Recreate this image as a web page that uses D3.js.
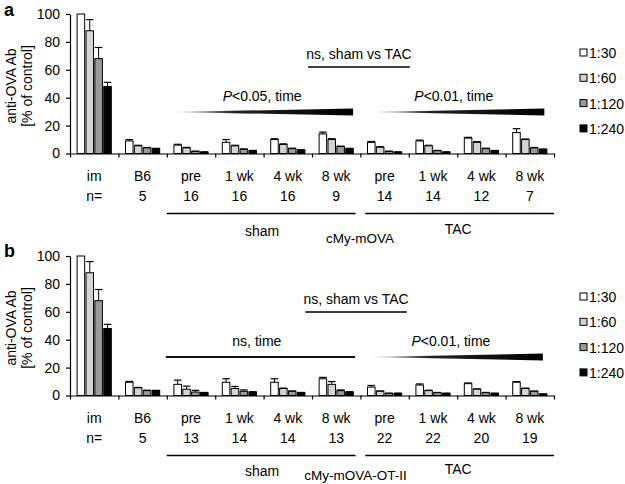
<!DOCTYPE html>
<html><head><meta charset="utf-8">
<script src="https://cdn.jsdelivr.net/npm/d3@7"></script>
<style>
body{margin:0;background:#fff;}
svg{display:block;font-family:"Liberation Sans",Arial,sans-serif;}
</style></head>
<body><svg id="c" width="625" height="484"></svg>
<script>
const categories = ["im","B6","pre","1 wk","4 wk","8 wk","pre","1 wk","4 wk","8 wk"];
const dilutions = ["1:30","1:60","1:120","1:240"];
const fills = ["#ffffff","#d4d4d4","#9a9a9a","#000000"];
const yTicks = [0,20,40,60,80,100];

// Panel a (cMy-mOVA)
const nA = ["n=","5","16","16","16","9","14","14","12","7"];
const a30  = [100, 9, 6, 8, 10, 14, 8, 9, 11, 15];
const a60  = [88, 5.5, 4, 5.5, 6.5, 10, 4.5, 5.5, 8, 10];
const a120 = [68, 4, 1.5, 3, 3.5, 5, 1.5, 2, 3.5, 4];
const a240 = [48, 3.5, 1, 2, 2.5, 3.5, 1, 1, 2, 3];
const aE30  = [0, 1, 0.6, 2, 0.6, 1.3, 0.6, 0.6, 0.6, 2.8];
const aE60  = [8, 0.4, 0.4, 0.4, 0.4, 0.6, 0.4, 0.4, 0.5, 0.4];
const aE120 = [8, 0.3, 0.2, 0.3, 0.3, 0.3, 0.2, 0.2, 0.3, 0.3];
const aE240 = [3, 0.2, 0.2, 0.2, 0.2, 0.2, 0.2, 0.2, 0.2, 0.2];

// Panel b (cMy-mOVA-OT-II)
const nB = ["n=","5","13","14","14","13","22","22","20","19"];
const b30  = [100, 9.5, 8, 9.5, 9.5, 12, 6, 7.5, 8.5, 9.5];
const b60  = [88, 5.5, 4.5, 5, 5, 8, 3, 3.5, 4.5, 5];
const b120 = [68, 3.5, 2.5, 3, 3, 3.5, 1.5, 2, 2, 3];
const b240 = [48, 3.5, 2, 2.5, 2, 2.5, 1.5, 1.5, 1.5, 1];
const bE30  = [0, 0.6, 3, 2.5, 2.5, 1, 1.2, 0.8, 0.5, 0.5];
const bE60  = [8, 0.3, 2.2, 1.5, 0.3, 2, 0.3, 0.3, 0.3, 0.3];
const bE120 = [8, 0.3, 1.2, 1, 0.3, 0.5, 0.2, 0.2, 0.2, 0.2];
const bE240 = [3, 0.2, 0.2, 0.2, 0.2, 0.2, 0.2, 0.2, 0.2, 0.2];

const svg = d3.select("#c");
const defs = svg.append("defs");
const grad = defs.append("linearGradient").attr("id","wedgeGrad")
  .attr("x1","0%").attr("x2","100%").attr("y1","0%").attr("y2","0%");
grad.append("stop").attr("offset","0%").attr("stop-color","#e0e0e0");
grad.append("stop").attr("offset","35%").attr("stop-color","#222");
grad.append("stop").attr("offset","100%").attr("stop-color","#000");

const FS = 14;

function drawPanel(cfg){
  const g = svg.append("g").attr("transform",`translate(0,${cfg.dy})`);
  const y = d3.scaleLinear().domain([0,100]).range([153.5,14]);
  const xb = d3.scaleLinear().domain([0,10]).range([70,554]);
  const x = d3.scaleBand().domain(d3.range(categories.length)).range([70,554]);
  const xi = d3.scaleBand().domain(d3.range(dilutions.length)).range([0,x.bandwidth()])
    .paddingInner(0.15).paddingOuter(0.8);

  // panel letter
  g.append("text").attr("x",4).attr("y",cfg.letterY).attr("font-size",18).attr("font-weight","bold").text(cfg.letter);

  // axes
  const yAx = g.append("g").attr("transform","translate(70,0)")
    .call(d3.axisLeft(y).tickValues(yTicks).tickSize(4).tickSizeOuter(0).tickPadding(6));
  yAx.selectAll("text").attr("font-size",FS).attr("font-family","Liberation Sans, Arial, sans-serif").attr("fill","#000");
  yAx.selectAll("line,path").attr("stroke","#000").attr("stroke-width",1.2);

  const xAx = g.append("g").attr("transform",`translate(0,${y(0)})`)
    .call(d3.axisBottom(xb).tickValues(d3.range(0,11)).tickSize(4).tickSizeOuter(0).tickFormat(""));
  xAx.selectAll("line,path").attr("stroke","#000").attr("stroke-width",1.2);

  // y title
  g.append("text").attr("transform","translate(16,86) rotate(-90)")
    .attr("text-anchor","middle").attr("font-size",FS).text("anti-OVA Ab");
  g.append("text").attr("transform","translate(32,86) rotate(-90)")
    .attr("text-anchor","middle").attr("font-size",FS).text("[% of control]");

  // bars
  const vals = cfg.values, errs = cfg.errors;
  dilutions.forEach((d,k)=>{
    const bg = g.append("g");
    categories.forEach((c,i)=>{
      const bx = x(i)+xi(k), bw = xi.bandwidth();
      const v = vals[k][i], e = errs[k][i];
      if(e>0){
        bg.append("line").attr("x1",bx+bw/2).attr("x2",bx+bw/2)
          .attr("y1",y(v)).attr("y2",y(v+e)).attr("stroke","#000").attr("stroke-width",1);
        bg.append("line").attr("x1",bx).attr("x2",bx+bw)
          .attr("y1",y(v+e)).attr("y2",y(v+e)).attr("stroke","#000").attr("stroke-width",1.2);
      }
      bg.append("rect").attr("x",bx).attr("y",y(v)).attr("width",bw).attr("height",y(0)-y(v))
        .attr("fill",fills[k]).attr("stroke","#000").attr("stroke-width",1);
    });
  });

  // category labels and n
  categories.forEach((c,i)=>{
    g.append("text").attr("x",x(i)+x.bandwidth()/2).attr("y",181).attr("text-anchor","middle")
      .attr("font-size",FS).text(c);
    g.append("text").attr("x",x(i)+x.bandwidth()/2).attr("y",201).attr("text-anchor","middle")
      .attr("font-size",FS).text(cfg.n[i]);
  });

  // group brackets
  g.append("line").attr("x1",xb(2)).attr("x2",xb(5.9)).attr("y1",213.5).attr("y2",213.5).attr("stroke","#000").attr("stroke-width",1.5);
  g.append("line").attr("x1",xb(6.1)).attr("x2",xb(10)).attr("y1",213.5).attr("y2",213.5).attr("stroke","#000").attr("stroke-width",1.5);
  g.append("text").attr("x",xb(3.97)).attr("y",cfg.shamY).attr("text-anchor","middle").attr("font-size",FS).text("sham");
  g.append("text").attr("x",xb(8.02)).attr("y",cfg.shamY-2).attr("text-anchor","middle").attr("font-size",FS).text("TAC");
  g.append("text").attr("x",xb(cfg.strainPos)).attr("y",cfg.strainY).attr("text-anchor","middle").attr("font-size",13.5).text(cfg.strain);

  // ns, sham vs TAC
  g.append("text").attr("x",xb((cfg.nsLine[0]+cfg.nsLine[1])/2)).attr("y",cfg.nsY).attr("text-anchor","middle")
    .attr("font-size",FS).text("ns, sham vs TAC");
  g.append("line").attr("x1",xb(cfg.nsLine[0])).attr("x2",xb(cfg.nsLine[1]))
    .attr("y1",cfg.nsY+8).attr("y2",cfg.nsY+8).attr("stroke","#000").attr("stroke-width",1.5);

  // time annotations
  cfg.time.forEach(t=>{
    const tx = g.append("text").attr("x",xb(t.tx)).attr("y",t.ty).attr("text-anchor","middle").attr("font-size",FS);
    if(t.italicP){
      tx.append("tspan").attr("font-style","italic").text("P");
      tx.append("tspan").text(t.label);
    } else tx.text(t.label);
    const x0 = xb(t.span[0]), x1 = xb(t.span[1]), cy = t.ly;
    if(t.wedge){
      g.append("path").attr("d",`M${x0},${cy} L${x1},${cy-3.5} L${x1},${cy+3.5} Z`).attr("fill","url(#wedgeGrad)");
    } else {
      g.append("line").attr("x1",x0).attr("x2",x1).attr("y1",cy).attr("y2",cy).attr("stroke","#111").attr("stroke-width",2);
    }
  });

  // legend
  dilutions.forEach((d,k)=>{
    const ly = cfg.legendY + k*25.3;
    g.append("rect").attr("x",580).attr("y",ly-4).attr("width",7).attr("height",7)
      .attr("fill",fills[k]).attr("stroke","#000").attr("stroke-width",1);
    g.append("text").attr("x",589).attr("y",ly+5).attr("font-size",FS).text(d);
  });
}

drawPanel({
  dy:0, letter:"a", letterY:16, n:nA,
  values:[a30,a60,a120,a240], errors:[aE30,aE60,aE120,aE240],
  strain:"cMy-mOVA", strainPos:5.99, strainY:243, shamY:236,
  nsLine:[4.92,7.02], nsY:59,
  legendY:53,
  time:[
    {label:"<0.05, time", italicP:true, tx:3.97, ty:101, span:[2.1,5.85], ly:112, wedge:true},
    {label:"<0.01, time", italicP:true, tx:7.93, ty:101, span:[6.2,9.8], ly:112, wedge:true}
  ]
});
drawPanel({
  dy:242, letter:"b", letterY:15, n:nB,
  values:[b30,b60,b120,b240], errors:[bE30,bE60,bE120,bE240],
  strain:"cMy-mOVA-OT-II", strainPos:5.9, strainY:238, shamY:234,
  nsLine:[4.86,6.96], nsY:62,
  legendY:55,
  time:[
    {label:"ns, time", italicP:false, tx:3.86, ty:104, span:[1.98,5.89], ly:115, wedge:false},
    {label:"<0.01, time", italicP:true, tx:7.87, ty:104, span:[6.16,9.77], ly:115, wedge:true}
  ]
});
</script></body></html>
